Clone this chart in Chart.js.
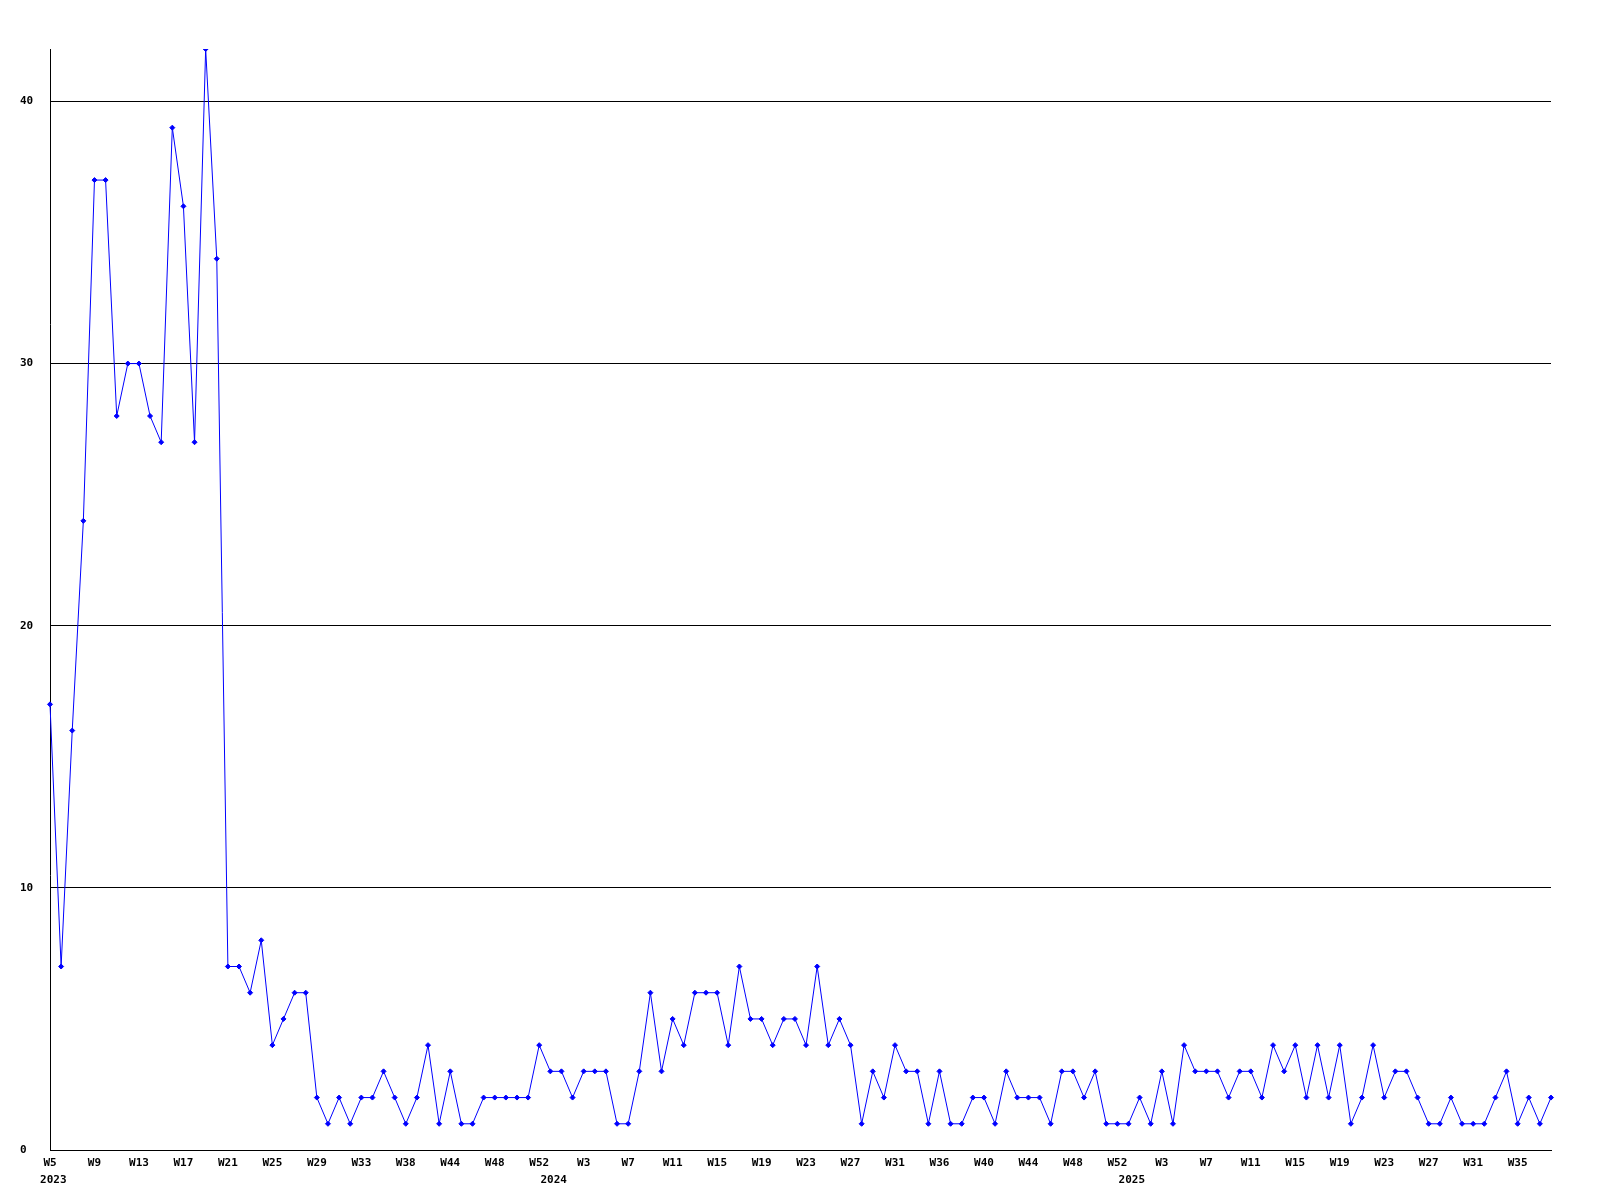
<!DOCTYPE html>
<html>
<head>
<meta charset="utf-8">
<script src="https://cdn.jsdelivr.net/npm/chart.js@4.4.1/dist/chart.umd.min.js"></script>
<style>
  html, body { margin: 0; padding: 0; background: #ffffff; }
  canvas { display: block; }
</style>
</head>
<body>
<canvas id="c" width="1600" height="1200"></canvas>
<script>
// Weekly counts, one value per point (136 points)
const values = [
  17, 7, 16, 24, 37, 37, 28, 30, 30, 28, 27, 39, 36, 27, 42, 34,
  7, 7, 6, 8, 4, 5, 6, 6, 2, 1, 2, 1, 2, 2, 3, 2,
  1, 2, 4, 1, 3, 1, 1, 2, 2, 2, 2, 2, 4, 3, 3, 2,
  3, 3, 3, 1, 1, 3, 6, 3, 5, 4, 6, 6, 6, 4, 7, 5,
  5, 4, 5, 5, 4, 7, 4, 5, 4, 1, 3, 2, 4, 3, 3, 1,
  3, 1, 1, 2, 2, 1, 3, 2, 2, 2, 1, 3, 3, 2, 3, 1,
  1, 1, 2, 1, 3, 1, 4, 3, 3, 3, 2, 3, 3, 2, 4, 3,
  4, 2, 4, 2, 4, 1, 2, 4, 2, 3, 3, 2, 1, 1, 2, 1,
  1, 1, 2, 3, 1, 2, 1, 2
];

// Week tick labels, shown on every 4th point starting at the first one
const weekTicks = [
  "W5", "W9", "W13", "W17", "W21", "W25", "W29", "W33", "W38", "W44", "W48", "W52",
  "W3", "W7", "W11", "W15", "W19", "W23", "W27", "W31", "W36", "W40", "W44", "W48", "W52",
  "W3", "W7", "W11", "W15", "W19", "W23", "W27", "W31", "W35"
];
const weekTickStep = 4;

// Year labels (second line) and the point index they sit under
const yearTicks = ["2023", "2024", "2025"];
const yearTickIndex = [0, 45, 97];

// Y-axis
const yMax = 42;
const yStep = 10;

// Build categories from the tick arrays
const categories = values.map((v, i) => {
  const wk = (i % weekTickStep === 0 && weekTicks[i / weekTickStep]) ? weekTicks[i / weekTickStep] : "";
  const yi = yearTickIndex.indexOf(i);
  const yr = yi >= 0 ? yearTicks[yi] : "";
  return yr ? [wk, " " + yr] : wk;
});

const FONT = { family: "'DejaVu Sans Mono', 'Liberation Mono', monospace", size: 11, weight: 'bold', lineHeight: 1.6 };

new Chart(document.getElementById('c'), {
  type: 'line',
  data: {
    labels: categories,
    datasets: [{
      data: values,
      borderColor: '#0000ff',
      backgroundColor: '#0000ff',
      borderWidth: 1,
      tension: 0,
      fill: false,
      pointStyle: 'rectRot',
      pointRadius: 2.5,
      pointBorderWidth: 1,
      pointBorderColor: '#0000ff',
      pointBackgroundColor: '#0000ff'
    }]
  },
  options: {
    responsive: false,
    animation: false,
    devicePixelRatio: 1,
    layout: { padding: { left: 20, right: 49, top: 49, bottom: 0 } },
    plugins: { legend: { display: false }, tooltip: { enabled: false } },
    scales: {
      x: {
        type: 'category',
        offset: false,
        grid: { display: false, drawTicks: false },
        border: { display: true, color: '#000000', width: 1 },
        ticks: {
          autoSkip: false,
          maxRotation: 0,
          minRotation: 0,
          padding: 4,
          color: '#000000',
          font: FONT,
          callback: function (value, index) { return categories[index]; }
        },
        afterFit: s => { s.height = 50; }
      },
      y: {
        min: 0,
        max: yMax,
        grid: { color: '#000000', lineWidth: 1, drawTicks: false },
        border: { display: true, color: '#000000', width: 1 },
        ticks: {
          stepSize: yStep,
          crossAlign: 'far',
          padding: 0,
          color: '#000000',
          font: { family: FONT.family, size: 11, weight: 'bold' },
          callback: v => (v % yStep === 0 ? String(v) : null)
        },
        afterFit: s => { s.width = 30; }
      }
    }
  }
});
</script>
</body>
</html>
